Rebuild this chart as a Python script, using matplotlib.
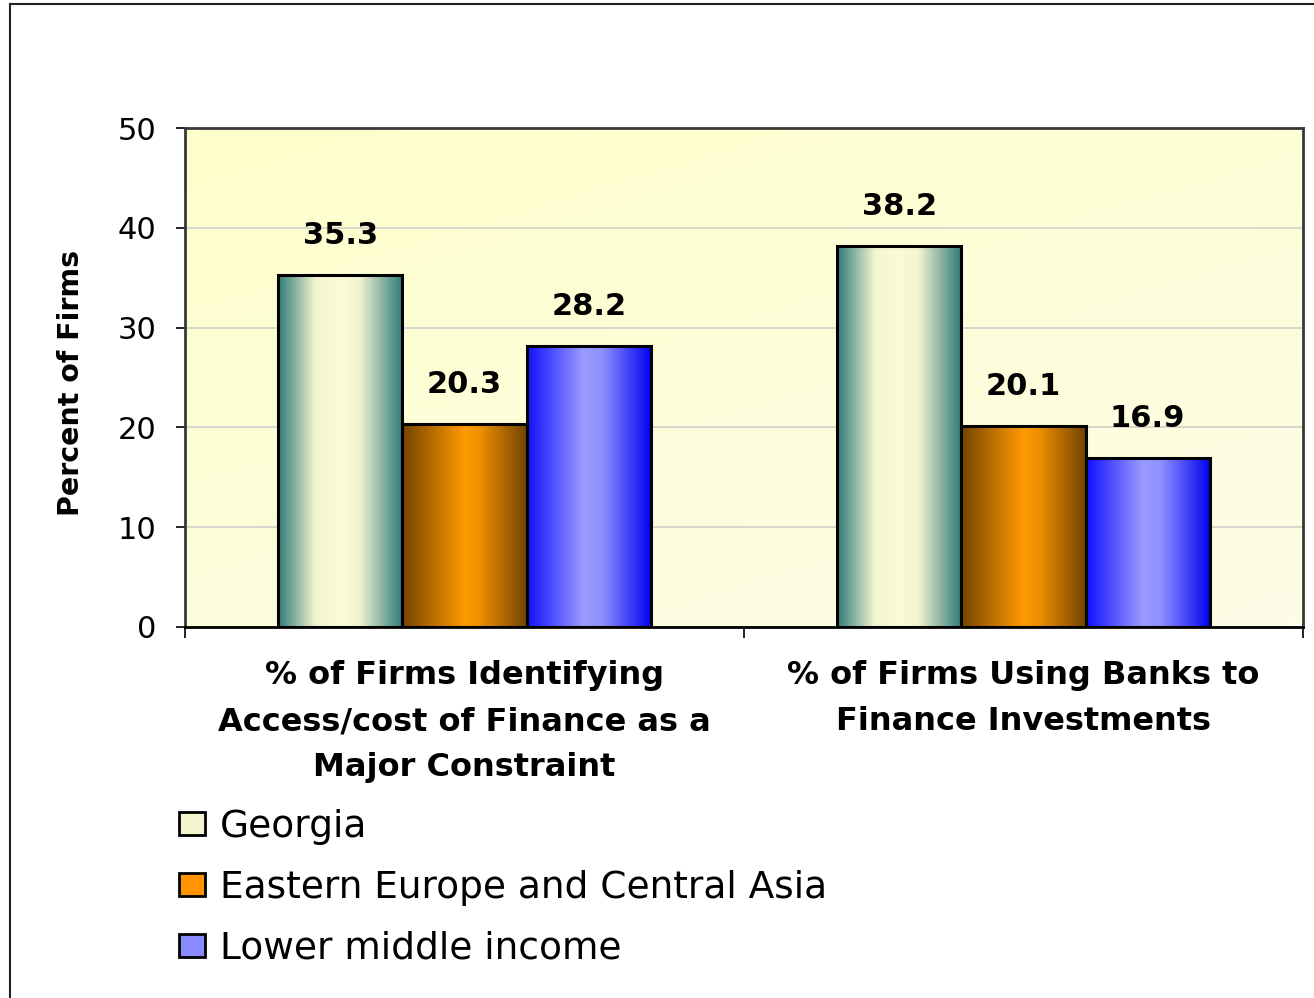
import numpy as np
import matplotlib
matplotlib.use("Agg")
import matplotlib.pyplot as plt
from matplotlib.colors import LinearSegmentedColormap
from matplotlib.patches import Patch
from matplotlib.lines import Line2D

plt.rcParams['font.family'] = ['DejaVu Sans']

# data
categories = ['% of Firms Identifying\nAccess/cost of Finance as a\nMajor Constraint',
              '% of Firms Using Banks to\nFinance Investments']
series = ['Georgia', 'Eastern Europe and Central Asia', 'Lower middle income']
georgia = [35.3, 38.2]
eeca = [20.3, 20.1]
lower_mid = [28.2, 16.9]
values = [georgia, eeca, lower_mid]

# gradient colours per series (left edge -> centre -> right edge)
grad_stops = [
    [(0.0, '#2f7a7a'), (0.3, '#f2f5cf'), (0.5, '#fbfbd6'), (0.65, '#f2f5cf'), (1.0, '#2f7a7a')],
    [(0.0, '#744400'), (0.5, '#ff9a00'), (0.62, '#f09000'), (1.0, '#734300')],
    [(0.0, '#1010ff'), (0.45, '#9a9aff'), (0.6, '#9090ff'), (1.0, '#0000f0')],
]
legend_colors = ['#f3f5cf', '#ff9300', '#8a8aff']

fig = plt.figure(figsize=(13.14, 9.98), dpi=100)
ax = fig.add_axes([185/1314, 371/998, 1118/1314, 499/998])

# background gradient of plot area
bg = LinearSegmentedColormap.from_list('bg', ['#ffffcc', '#fdfde8'])
yy, xx = np.mgrid[0:1:100j, 0:1:100j]
ax.imshow(yy * 0.6 + xx * 0.4, cmap=bg, extent=[0, 1, 0, 1], transform=ax.transAxes,
          aspect='auto', zorder=0, origin='upper')

x = np.arange(len(categories))
w = 2 / 9
grad = np.linspace(0, 1, 256).reshape(1, -1)
for i, vals in enumerate(values):
    bars = ax.bar(x + (i - 1) * w, vals, width=w, facecolor='none', edgecolor='black',
                  linewidth=2.2, zorder=3)
    cmap = LinearSegmentedColormap.from_list('g%d' % i, grad_stops[i])
    for b, v in zip(bars, vals):
        im = ax.imshow(grad, cmap=cmap, aspect='auto', zorder=2.5,
                       extent=[b.get_x(), b.get_x() + b.get_width(), 0, b.get_height()])
        im.set_clip_path(b)
        ax.annotate('%.1f' % v, (b.get_x() + b.get_width() / 2, v), xytext=(0, 18),
                    textcoords='offset points', ha='center', va='bottom',
                    fontsize=22, fontweight='bold', zorder=4)

ax.set_xlim(-0.5, 1.5)
ax.set_ylim(0, 50)
ax.set_yticks([0, 10, 20, 30, 40, 50])
ax.yaxis.grid(True, color='#d4d4cc', linewidth=1.3, zorder=1)
ax.set_axisbelow(True)
ax.tick_params(axis='y', labelsize=22, length=6.5, width=1.2, direction='out', pad=14)
ax.set_xticks(x)
ax.set_xticklabels(categories, fontsize=23, fontweight='bold', linespacing=1.62)
ax.tick_params(axis='x', which='major', length=0, pad=24)
ax.set_xticks([-0.5, 0.5, 1.5], minor=True)
ax.tick_params(axis='x', which='minor', length=8, width=1.2, direction='out')
ax.set_ylabel('Percent of Firms', fontsize=20.5, fontweight='bold')
ax.yaxis.set_label_coords(-0.089, 0.489)

for s in ['top', 'right', 'left']:
    ax.spines[s].set_color('#383838')
    ax.spines[s].set_linewidth(2)
ax.spines['bottom'].set_color('black')
ax.spines['bottom'].set_linewidth(2)

handles = [Patch(facecolor=c, edgecolor='black', linewidth=2) for c in legend_colors]
fig.legend(handles, series, loc='upper left', bbox_to_anchor=(164/1314, 1 - 794/998),
           frameon=False, fontsize=27, handlelength=0.68, handleheight=0.58,
           handletextpad=0.4, labelspacing=0.665, borderaxespad=0)

# outer slide frame
fig.add_artist(Line2D([10/1314, 10/1314], [0, 1 - 4/998], color='#222222', lw=1.5))
fig.add_artist(Line2D([10/1314, 1], [1 - 4/998, 1 - 4/998], color='#222222', lw=1.5))

fig.savefig('out.png', dpi=100)
